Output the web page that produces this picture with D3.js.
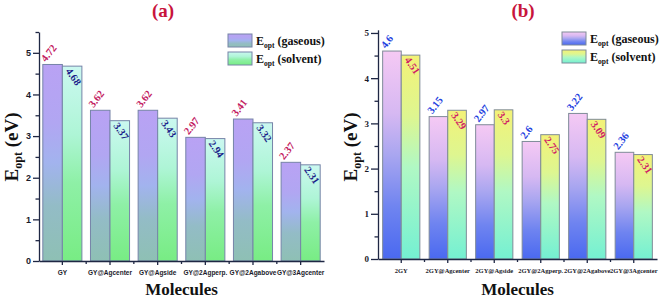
<!DOCTYPE html>
<html>
<head>
<meta charset="utf-8">
<script src="https://cdn.jsdelivr.net/npm/d3@7"></script>
<style>
body { margin: 0; background: #fff; }
</style>
</head>
<body>
<div id="chart"></div>
<script>
let width = 661;
let height = 298;

// panel (a) data
let moleculesA = ["GY", "GY@Agcenter", "GY@Agside", "GY@2Agperp.", "GY@2Agabove", "GY@3Agcenter"];
let gaseousA = [4.72, 3.62, 3.62, 2.97, 3.41, 2.37];
let solventA = [4.68, 3.37, 3.43, 2.94, 3.32, 2.31];

// panel (b) data
let moleculesB = ["2GY", "2GY@Agcenter", "2GY@Agside", "2GY@2Agperp.", "2GY@2Agabove", "2GY@3Agcenter"];
let gaseousB = [4.6, 3.15, 2.97, 2.6, 3.22, 2.36];
let solventB = [4.51, 3.29, 3.3, 2.75, 3.09, 2.31];

let yTicks = [0, 1, 2, 3, 4, 5];
let legendNames = ["(gaseous)", "(solvent)"];

let serif = "'Liberation Serif', 'Times New Roman', serif";
let sans = "'Liberation Sans', Arial, sans-serif";

let svg = d3.select("#chart")
    .append("svg")
    .attr("width", width)
    .attr("height", height);

let defs = svg.append("defs");

// vertical gradient, top to bottom
function gradient(id, stops) {
    let g = defs.append("linearGradient")
        .attr("id", id)
        .attr("x1", 0).attr("y1", 0)
        .attr("x2", 0).attr("y2", 1);
    stops.forEach(function(s) {
        g.append("stop").attr("offset", s[0]).attr("stop-color", s[1]);
    });
}

gradient("gasA", [[0, "#b9a2f4"], [0.3, "#b1a6f2"], [0.5, "#a2b3ee"], [0.72, "#93bcc6"], [1, "#8ec0b4"]]);
gradient("solA", [[0, "#cbf8f0"], [0.35, "#aef5d6"], [0.6, "#8ef0a6"], [1, "#78ec84"]]);
gradient("gasB", [[0, "#f5c9f4"], [0.3, "#d6b8f2"], [0.5, "#a9a6f0"], [0.75, "#6f84f0"], [1, "#4a69f0"]]);
gradient("solB", [[0, "#f3f277"], [0.3, "#def690"], [0.55, "#b0f8c4"], [1, "#74f0d2"]]);

let panels = [
    {
        title: "(a)", titleX: 163,
        molecules: moleculesA, gaseous: gaseousA, solvent: solventA,
        xRange: [39, 324], padIn: 0.18, padOut: 0.08,
        yMax: 5.5, yRange: [261, 32],
        ylabelX: 18, tickFont: sans, catFont: sans,
        tickSize: 6, gasFill: "url(#gasA)", solFill: "url(#solA)",
        barStroke: "#7684a8", gasLabel: "#c3205f", solLabel: "#1b1f8a",
        legendX: 228, legendY: 34
    },
    {
        title: "(b)", titleX: 523,
        molecules: moleculesB, gaseous: gaseousB, solvent: solventB,
        xRange: [378, 657], padIn: 0.2, padOut: 0.1,
        yMax: 5.07, yRange: [259, 29.8],
        ylabelX: 357, tickFont: serif, catFont: serif,
        tickSize: 7, gasFill: "url(#gasB)", solFill: "url(#solB)",
        barStroke: "#7f8b98", gasLabel: "#2340e0", solLabel: "#d01e66",
        legendX: 562, legendY: 32
    }
];

panels.forEach(drawPanel);

function drawPanel(p) {
    let g = svg.append("g");

    let x = d3.scaleBand()
        .domain(p.molecules)
        .range(p.xRange)
        .paddingInner(p.padIn)
        .paddingOuter(p.padOut);

    let y = d3.scaleLinear()
        .domain([0, p.yMax])
        .range(p.yRange);

    let bw = x.bandwidth() / 2;
    let rows = p.molecules.map(function(m, i) {
        return {name: m, gas: p.gaseous[i], sol: p.solvent[i]};
    });

    // bars
    g.selectAll("rect.gas")
        .data(rows)
        .enter().append("rect")
        .attr("class", "gas")
        .attr("x", d => x(d.name))
        .attr("y", d => y(d.gas))
        .attr("width", bw)
        .attr("height", d => y(0) - y(d.gas))
        .attr("fill", p.gasFill)
        .attr("stroke", p.barStroke)
        .attr("stroke-width", 1);

    g.selectAll("rect.sol")
        .data(rows)
        .enter().append("rect")
        .attr("class", "sol")
        .attr("x", d => x(d.name) + bw)
        .attr("y", d => y(d.sol))
        .attr("width", bw)
        .attr("height", d => y(0) - y(d.sol))
        .attr("fill", p.solFill)
        .attr("stroke", p.barStroke)
        .attr("stroke-width", 1);

    // value labels, gaseous above the bar (tilted up) and solvent inside it (tilted down)
    let gl = g.selectAll("g.gasLabel")
        .data(rows)
        .enter().append("g")
        .attr("class", "gasLabel")
        .attr("transform", d => "translate(" + (x(d.name) + 3) + "," + (y(d.gas) - 2) + ")");
    gl.append("text")
        .attr("transform", "rotate(-52)")
        .attr("font-family", serif)
        .attr("font-weight", "bold")
        .attr("font-size", 10.5)
        .attr("fill", p.gasLabel)
        .text(d => d.gas);

    g.selectAll("text.solLabel")
        .data(rows)
        .enter().append("text")
        .attr("class", "solLabel")
        .attr("x", d => x(d.name) + bw + 3)
        .attr("y", d => y(d.sol) + 5)
        .attr("transform", d => "rotate(55," + (x(d.name) + bw + 3) + "," + (y(d.sol) + 5) + ")")
        .attr("font-family", serif)
        .attr("font-weight", "bold")
        .attr("font-size", 10.5)
        .attr("fill", p.solLabel)
        .text(d => d.sol);

    // y axis with half-unit minor ticks
    let yAxis = d3.axisLeft(y)
        .tickValues(d3.range(0, Math.floor(p.yMax * 2) / 2 + 0.01, 0.5))
        .tickFormat(d => yTicks.indexOf(d) >= 0 ? d : "")
        .tickSize(p.tickSize)
        .tickPadding(2)
        .tickSizeOuter(0);

    let ya = g.append("g")
        .attr("transform", "translate(" + p.xRange[0] + ",0)")
        .call(yAxis);
    ya.selectAll(".tick line")
        .attr("x2", d => yTicks.indexOf(d) >= 0 ? -p.tickSize : -3.5);
    ya.selectAll("text")
        .attr("font-family", p.tickFont)
        .attr("font-weight", "bold")
        .attr("font-size", 9)
        .attr("fill", "#1a1a2a");

    // x axis
    let xAxis = d3.axisBottom(x)
        .tickSize(4)
        .tickPadding(5)
        .tickSizeOuter(0);

    let xa = g.append("g")
        .attr("transform", "translate(0," + y(0) + ")")
        .call(xAxis);
    xa.selectAll("text")
        .attr("font-family", p.catFont)
        .attr("font-weight", "bold")
        .attr("font-size", 6.5)
        .attr("fill", "#1a1a2a");

    // minor ticks between groups
    xa.selectAll(".minor")
        .data(p.molecules.slice(1))
        .enter().append("line")
        .attr("x1", d => x(d) - x.step() * p.padIn / 2)
        .attr("x2", d => x(d) - x.step() * p.padIn / 2)
        .attr("y1", 0)
        .attr("y2", 3)
        .attr("stroke", "currentColor");

    [ya, xa].forEach(function(a) {
        a.selectAll("path, line")
            .attr("stroke", "#1f2744")
            .attr("stroke-width", 1.3);
    });

    // title
    g.append("text")
        .attr("x", p.titleX)
        .attr("y", 17)
        .attr("text-anchor", "middle")
        .attr("font-family", serif)
        .attr("font-weight", "bold")
        .attr("font-size", 19)
        .attr("fill", "#c8143c")
        .text(p.title);

    // axis titles
    let cx = (p.xRange[0] + p.xRange[1]) / 2;
    g.append("text")
        .attr("x", cx)
        .attr("y", 295)
        .attr("text-anchor", "middle")
        .attr("font-family", serif)
        .attr("font-weight", "bold")
        .attr("font-size", 17)
        .attr("fill", "#111")
        .text("Molecules");

    let yl = g.append("text")
        .attr("transform", "translate(" + p.ylabelX + ",147) rotate(-90)")
        .attr("text-anchor", "middle")
        .attr("font-family", serif)
        .attr("font-weight", "bold")
        .attr("font-size", 19)
        .attr("fill", "#111");
    yl.append("tspan").text("E");
    yl.append("tspan").attr("font-size", 12).attr("dy", 4).text("opt");
    yl.append("tspan").attr("dy", -4).text(" (eV)");

    // legend
    let fills = [p.gasFill, p.solFill];
    let lg = g.append("g").attr("transform", "translate(" + p.legendX + "," + p.legendY + ")");
    legendNames.forEach(function(name, i) {
        lg.append("rect")
            .attr("x", 0)
            .attr("y", i * 18)
            .attr("width", 24)
            .attr("height", 13)
            .attr("fill", fills[i])
            .attr("stroke", p.barStroke)
            .attr("stroke-width", 1);
        let t = lg.append("text")
            .attr("x", 28)
            .attr("y", i * 18 + 11)
            .attr("font-family", serif)
            .attr("font-weight", "bold")
            .attr("font-size", 12)
            .attr("fill", "#111");
        t.append("tspan").text("E");
        t.append("tspan").attr("font-size", 7.5).attr("dy", 3).text("opt");
        t.append("tspan").attr("dy", -3).text(" " + name);
    });
}
</script>
</body>
</html>
